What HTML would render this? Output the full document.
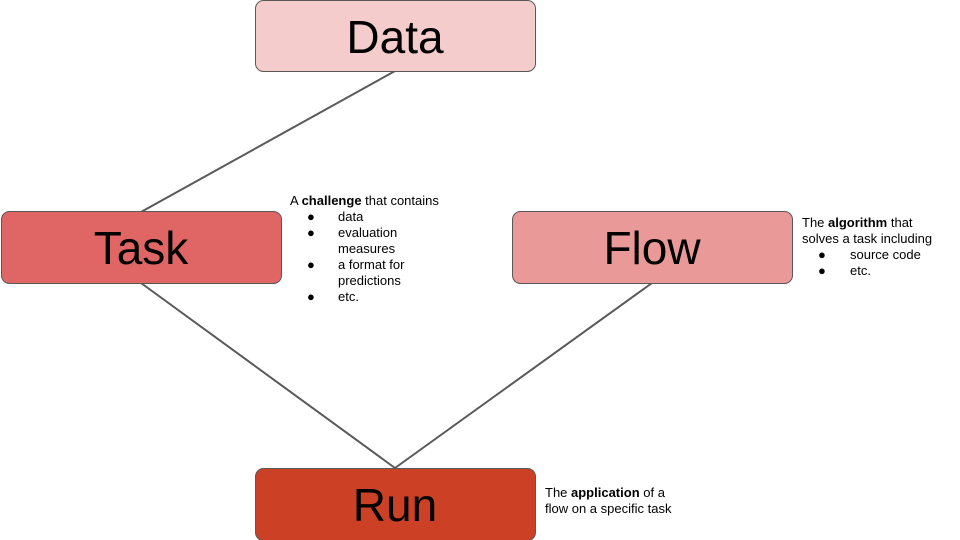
<!DOCTYPE html>
<html><head><style>body{margin:0;background:#fff}svg{display:block}</style></head><body>
<svg width="960" height="540" xmlns="http://www.w3.org/2000/svg" font-family="Liberation Sans, sans-serif">
<g stroke="#595959" stroke-width="2">
<line x1="395" y1="71" x2="141" y2="212"/>
<line x1="141" y1="283" x2="395" y2="468"/>
<line x1="652" y1="283" x2="395" y2="468"/>
</g>
<g stroke="#595959" stroke-width="1">
<rect x="255.5" y="0.5" width="280" height="71" rx="8" fill="#f4cccc"/>
<rect x="1.5" y="211.5" width="280" height="72" rx="8" fill="#e06666"/>
<rect x="512.5" y="211.5" width="280" height="72" rx="8" fill="#ea9999"/>
<rect x="255.5" y="468.5" width="280" height="72" rx="8" fill="#cc4125"/>
</g>
<g font-size="46" text-anchor="middle" fill="#000">
<text x="395" y="53">Data</text>
<text x="141" y="264">Task</text>
<text x="652" y="264">Flow</text>
<text x="395" y="521">Run</text>
</g>
<g font-size="13" fill="#000">
<text x="290" y="205">A <tspan font-weight="bold">challenge</tspan> that contains</text>
<text x="307" y="221">●</text><text x="338" y="221">data</text>
<text x="307" y="237">●</text><text x="338" y="237">evaluation</text>
<text x="338" y="253">measures</text>
<text x="307" y="269">●</text><text x="338" y="269">a format for</text>
<text x="338" y="285">predictions</text>
<text x="307" y="301">●</text><text x="338" y="301">etc.</text>
<text x="802" y="227">The <tspan font-weight="bold">algorithm</tspan> that</text>
<text x="802" y="243">solves a task including</text>
<text x="818" y="259">●</text><text x="850" y="259">source code</text>
<text x="818" y="275">●</text><text x="850" y="275">etc.</text>
<text x="545" y="497">The <tspan font-weight="bold">application</tspan> of a</text>
<text x="545" y="513">flow on a specific task</text>
</g>
</svg>
</body></html>
